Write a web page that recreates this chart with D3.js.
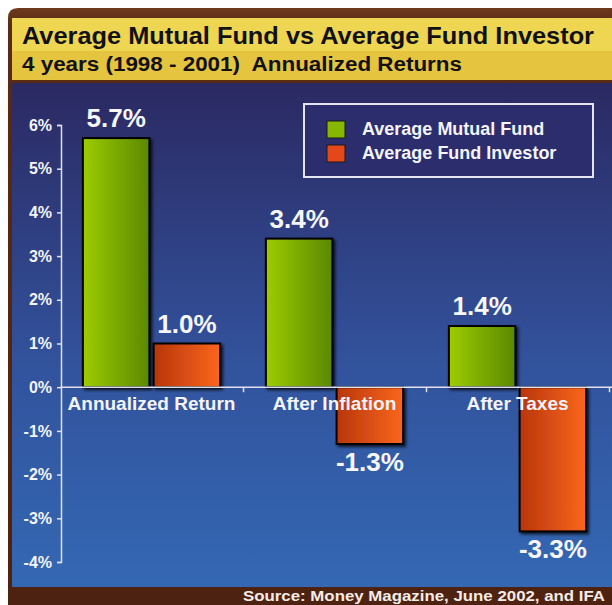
<!DOCTYPE html>
<html>
<head>
<meta charset="utf-8">
<script src="https://cdn.jsdelivr.net/npm/d3@7"></script>
<style>
  html, body { margin: 0; padding: 0; background: #fff; }
  svg { display: block; font-family: "Liberation Sans", Arial, sans-serif; }
</style>
</head>
<body>
<div id="chart"></div>
<script>
// Chart data
const categories = ["Annualized Return", "After Inflation", "After Taxes"];
const seriesNames = ["Average Mutual Fund", "Average Fund Investor"];
const mutualFund = [5.7, 3.4, 1.4];
const fundInvestor = [1.0, -1.3, -3.3];
const yTicks = [6, 5, 4, 3, 2, 1, 0, -1, -2, -3, -4];

const width = 612, height = 605;

const svg = d3.select("#chart")
    .append("svg")
    .attr("width", width)
    .attr("height", height);

const defs = svg.append("defs");

// background gradients
const bg = defs.append("linearGradient").attr("id", "bg")
    .attr("x1", 0).attr("y1", 0).attr("x2", 0).attr("y2", 1);
bg.append("stop").attr("offset", "0%").attr("stop-color", "#2b2962");
bg.append("stop").attr("offset", "55%").attr("stop-color", "#32529c");
bg.append("stop").attr("offset", "100%").attr("stop-color", "#3468b3");

const frame = defs.append("linearGradient").attr("id", "frame")
    .attr("x1", 0).attr("y1", 0).attr("x2", 0).attr("y2", 1);
frame.append("stop").attr("offset", "0%").attr("stop-color", "#6e3a1e");
frame.append("stop").attr("offset", "3%").attr("stop-color", "#5a2a14");
frame.append("stop").attr("offset", "100%").attr("stop-color", "#4e2210");

const green = defs.append("linearGradient").attr("id", "green")
    .attr("x1", 0).attr("y1", 0).attr("x2", 1).attr("y2", 0);
green.append("stop").attr("offset", "0%").attr("stop-color", "#9dcc00");
green.append("stop").attr("offset", "100%").attr("stop-color", "#5a8800");

const orange = defs.append("linearGradient").attr("id", "orange")
    .attr("x1", 0).attr("y1", 0).attr("x2", 1).attr("y2", 0);
orange.append("stop").attr("offset", "0%").attr("stop-color", "#b8360c");
orange.append("stop").attr("offset", "100%").attr("stop-color", "#fb661c");

const shadow = defs.append("filter").attr("id", "shadow")
    .attr("x", "-20%").attr("y", "-20%").attr("width", "140%").attr("height", "140%");
shadow.append("feDropShadow")
    .attr("dx", 2).attr("dy", 2).attr("stdDeviation", 1.5)
    .attr("flood-color", "#000").attr("flood-opacity", 0.75);

// frame, title band and plot background
svg.append("path")
    .attr("d", "M8,18 Q8,8 18,8 L612,8 L612,605 L8,605 Z")
    .attr("fill", "url(#frame)");

svg.append("rect").attr("x", 12).attr("y", 18).attr("width", 600).attr("height", 33)
    .attr("fill", "#efd652");
svg.append("rect").attr("x", 12).attr("y", 51).attr("width", 600).attr("height", 29)
    .attr("fill", "#e5c440");
svg.append("rect").attr("x", 12).attr("y", 83).attr("width", 600).attr("height", 504)
    .attr("fill", "url(#bg)");

svg.append("text")
    .attr("x", 22).attr("y", 44)
    .attr("textLength", 572).attr("lengthAdjust", "spacingAndGlyphs")
    .style("font-size", "24px").style("font-weight", "bold").attr("fill", "#111")
    .text("Average Mutual Fund vs Average Fund Investor");

svg.append("text")
    .attr("x", 22).attr("y", 71)
    .attr("textLength", 440).attr("lengthAdjust", "spacingAndGlyphs")
    .style("font-size", "20px").style("font-weight", "bold").attr("fill", "#111")
    .text("4 years (1998 - 2001)\u00a0 Annualized Returns");

svg.append("text")
    .attr("x", 243).attr("y", 601)
    .attr("textLength", 362).attr("lengthAdjust", "spacingAndGlyphs")
    .style("font-size", "15.5px").style("font-weight", "bold").attr("fill", "#f4ece6")
    .text("Source: Money Magazine, June 2002, and IFA");

// scales
const y = d3.scaleLinear().domain([-4, 6]).range([562, 125]);
const x0 = d3.scaleBand().domain(categories).range([60, 609])
    .paddingInner(0.25).paddingOuter(0.125);
const x1 = d3.scaleBand().domain(seriesNames).range([0, x0.bandwidth()])
    .paddingInner(0.06);
const xb = d3.scaleLinear().domain([0, 3]).range([60, 609]);
const color = d3.scaleOrdinal().domain(seriesNames).range(["url(#green)", "url(#orange)"]);
const swatch = d3.scaleOrdinal().domain(seriesNames).range(["#86b800", "#e4481a"]);

const rows = categories.map((c, i) => ({
    cat: c,
    values: [
        { name: seriesNames[0], value: mutualFund[i] },
        { name: seriesNames[1], value: fundInvestor[i] }
    ]
}));

// y axis
const yAxis = svg.append("g")
    .attr("transform", "translate(61,0)")
    .call(d3.axisLeft(y).tickValues(yTicks).tickFormat(d => d + "%").tickSize(4).tickPadding(5));
yAxis.select(".domain").attr("stroke", "#dfe2ee").attr("stroke-width", 1.5);
yAxis.selectAll(".tick line").attr("stroke", "#dfe2ee").attr("stroke-width", 1.5);
yAxis.selectAll(".tick text")
    .attr("fill", "#f4f4fa")
    .style("font-size", "16px").style("font-weight", "bold")
    .style("font-family", "'Liberation Sans', Arial, sans-serif");

// bars
const groups = svg.selectAll(".group")
    .data(rows)
    .enter()
    .append("g")
    .attr("transform", d => `translate(${x0(d.cat)},0)`);

groups.selectAll("rect")
    .data(d => d.values)
    .enter()
    .append("rect")
    .attr("x", d => x1(d.name))
    .attr("y", d => y(Math.max(0, d.value)))
    .attr("width", x1.bandwidth())
    .attr("height", d => Math.abs(y(d.value) - y(0)))
    .attr("fill", d => color(d.name))
    .attr("stroke", "#000")
    .attr("stroke-width", 2)
    .attr("filter", "url(#shadow)");

// x axis at zero
svg.append("line")
    .attr("x1", 60).attr("x2", 612)
    .attr("y1", y(0)).attr("y2", y(0))
    .attr("stroke", "#dfe2ee").attr("stroke-width", 1.5);
svg.append("g")
    .attr("transform", `translate(0,${y(0)})`)
    .call(d3.axisBottom(xb).tickValues([1, 2, 3]).tickFormat("").tickSize(5).tickSizeOuter(0))
    .call(g => g.select(".domain").remove())
    .call(g => g.selectAll(".tick line").attr("stroke", "#dfe2ee").attr("stroke-width", 1.5));

// category labels
svg.selectAll(".cat")
    .data(categories)
    .enter()
    .append("text")
    .attr("x", d => x0(d) + x0.bandwidth() / 2)
    .attr("y", y(0) + 23)
    .attr("text-anchor", "middle")
    .attr("fill", "#f4f4fa")
    .style("font-size", "19px").style("font-weight", "bold")
    .text(d => d);

// value labels
groups.selectAll(".val")
    .data(d => d.values)
    .enter()
    .append("text")
    .attr("x", d => x1(d.name) + x1.bandwidth() / 2)
    .attr("y", d => d.value >= 0 ? y(d.value) - 11 : y(d.value) + 27)
    .attr("text-anchor", "middle")
    .attr("fill", "#f6f6fb")
    .style("font-size", "26px").style("font-weight", "bold")
    .text(d => d.value.toFixed(1) + "%");

// legend
const legend = svg.append("g");
legend.append("rect")
    .attr("x", 304).attr("y", 104).attr("width", 289).attr("height", 73)
    .attr("fill", "#2c2d6c").attr("stroke", "#e4e4ee").attr("stroke-width", 2);

const items = legend.selectAll(".item")
    .data(seriesNames)
    .enter()
    .append("g")
    .attr("transform", (d, i) => `translate(327,${121 + i * 24})`);

items.append("rect")
    .attr("width", 18).attr("height", 17)
    .attr("fill", d => swatch(d))
    .attr("stroke", "#1a1a1a").attr("stroke-width", 1);

items.append("text")
    .attr("x", 35).attr("y", 14)
    .attr("fill", "#f4f4fa")
    .style("font-size", "18px").style("font-weight", "bold")
    .text(d => d);
</script>
</body>
</html>
